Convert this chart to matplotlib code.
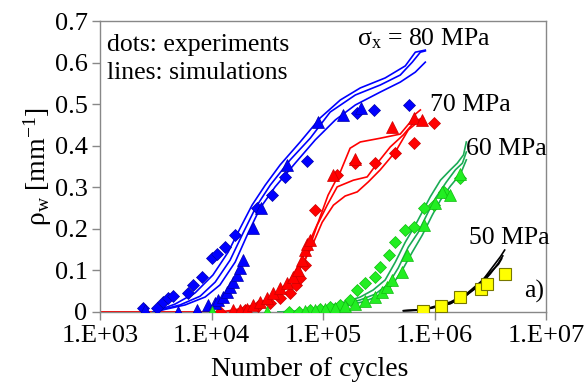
import matplotlib
matplotlib.use('Agg')
import matplotlib.pyplot as plt

plt.rcParams['font.family'] = 'Liberation Serif'
plt.rcParams['mathtext.fontset'] = 'custom'
plt.rcParams['mathtext.rm'] = 'Liberation Serif'
plt.rcParams['mathtext.it'] = 'Liberation Serif:italic'

# ---- 80 MPa (blue) ----
blue_sim_n = [
    [2990, 4710, 7130, 10300, 14100, 18100, 23100, 30300, 41300, 62400, 94500, 143000, 216000, 361000, 547000, 673000, 827000],
    [2990, 5220, 7910, 10800, 14700, 19200, 25100, 33600, 50800, 76800, 116000, 195000, 326000, 493000, 632000, 747000, 827000],
    [2990, 5800, 8770, 11900, 16300, 21300, 27300, 37200, 56300, 85200, 129000, 195000, 326000, 493000, 673000, 827000],
]
blue_sim_rho = [
    [0, 0.019, 0.046, 0.089, 0.144, 0.202, 0.257, 0.305, 0.354, 0.409, 0.467, 0.510, 0.539, 0.563, 0.592, 0.625, 0.630],
    [0, 0.017, 0.038, 0.072, 0.125, 0.190, 0.253, 0.305, 0.366, 0.418, 0.481, 0.522, 0.546, 0.570, 0.601, 0.625, 0.628],
    [0, 0.017, 0.036, 0.065, 0.120, 0.190, 0.250, 0.301, 0.358, 0.414, 0.462, 0.498, 0.529, 0.553, 0.577, 0.601],
]
blue_dia_n = [2430, 3230, 3700, 4100, 4550, 6200, 6800, 8200, 10100, 11200, 13300, 16300, 25500, 34800,
              45800, 71700, 201000, 284000, 586000]
blue_dia_rho = [0.010, 0.009, 0.025, 0.033, 0.038, 0.045, 0.065, 0.085, 0.129, 0.139, 0.157, 0.185, 0.249, 0.281,
                0.325, 0.364, 0.478, 0.486, 0.498]
blue_tri_n = [2540, 5050, 7380, 9380, 10800, 11500, 12800, 13700, 14700, 15700, 16900, 18100, 19300, 23800,
              27900, 47400, 89500, 150000, 220000]
blue_tri_rho = [0.006, 0.0, 0.005, 0.017, 0.021, 0.029, 0.037, 0.049, 0.061, 0.073, 0.089, 0.105, 0.125, 0.203,
                0.249, 0.354, 0.458, 0.474, 0.490]

# ---- 70 MPa (red) ----
red_sim_n = [
    [1000, 11900, 18100, 27300, 37200, 50800, 62400, 76800, 90600, 111000, 143000, 175000, 216000, 326000, 493000, 607000, 673000, 747000],
    [1000, 13200, 20000, 30300, 41300, 56300, 69200, 88700, 109000, 134000, 187000, 249000, 307000, 401000, 525000, 673000, 793000],
    [1000, 14700, 22200, 33600, 45800, 59800, 76800, 98400, 124000, 158000, 203000, 255000, 326000, 445000, 582000, 747000],
]
red_sim_rho = [
    [0, 0, 0.007, 0.022, 0.041, 0.077, 0.120, 0.173, 0.216, 0.281, 0.337, 0.394, 0.409, 0.418, 0.428, 0.457, 0.476, 0.486],
    [0, 0, 0.010, 0.026, 0.048, 0.087, 0.125, 0.209, 0.257, 0.301, 0.317, 0.325, 0.358, 0.397, 0.426, 0.460, 0.467],
    [0, 0, 0.012, 0.031, 0.055, 0.096, 0.149, 0.216, 0.257, 0.279, 0.289, 0.313, 0.342, 0.385, 0.438, 0.462],
]
red_dia_n = [11900, 20000, 26200, 33600, 41300, 50800, 57400, 62400, 69200, 85200, 133000, 195000, 294000,
             445000, 649000, 982000]
red_dia_rho = [0.001, 0.005, 0.014, 0.022, 0.034, 0.046, 0.065, 0.082, 0.113, 0.245, 0.330, 0.359, 0.358,
               0.382, 0.406, 0.454]
red_tri_n = [15600, 18100, 20900, 23600, 27300, 31600, 35700, 41300, 47700, 54000, 59800, 65000, 69200,
             72100, 76800, 124000, 195000, 416000, 649000, 773000]
red_tri_rho = [0.005, 0.005, 0.007, 0.017, 0.025, 0.034, 0.046, 0.058, 0.070, 0.084, 0.101, 0.125, 0.149,
               0.164, 0.173, 0.330, 0.369, 0.444, 0.466, 0.462]

# ---- 60 MPa (green) ----
green_sim_n = [
    [39600, 62400, 100400, 158000, 216000, 282000, 361000, 445000, 547000, 673000, 793000, 916000, 1130000, 1390000, 1600000, 1820000, 1930000],
    [39600, 62400, 100400, 158000, 216000, 294000, 385000, 473000, 582000, 716000, 879000, 1040000, 1280000, 1540000, 1780000, 1930000],
    [39600, 62400, 105000, 175000, 239000, 326000, 418000, 514000, 632000, 777000, 955000, 1130000, 1390000, 1710000, 1930000],
]
green_sim_rho = [
    [0, 0.002, 0.012, 0.024, 0.036, 0.053, 0.077, 0.120, 0.168, 0.209, 0.245, 0.277, 0.317, 0.342, 0.358, 0.378, 0.409],
    [0, 0.002, 0.010, 0.019, 0.029, 0.043, 0.067, 0.106, 0.156, 0.192, 0.241, 0.277, 0.313, 0.342, 0.358, 0.385],
    [0, 0, 0.007, 0.017, 0.026, 0.041, 0.065, 0.101, 0.144, 0.185, 0.233, 0.269, 0.303, 0.332, 0.366],
]
green_dia_n = [49700, 61100, 76800, 94500, 116000, 143000, 175000, 201000, 239000, 294000, 326000, 387000,
               445000, 547000, 649000, 798000, 982000, 1210000, 1710000]
green_dia_rho = [0.001, 0.0, 0.005, 0.007, 0.012, 0.017, 0.029, 0.053, 0.070, 0.085, 0.109, 0.137,
                 0.169, 0.197, 0.204, 0.249, 0.257, 0.289, 0.322]
green_tri_n = [10100, 31300, 69200, 85200, 105000, 129000, 158000, 195000, 239000, 294000, 340000, 375000,
               416000, 511000, 567000, 798000, 1020000, 1170000, 1390000, 1710000]
green_tri_rho = [0.0, 0.0, 0.002, 0.005, 0.007, 0.010, 0.014, 0.019, 0.026, 0.036, 0.048, 0.061,
                 0.077, 0.097, 0.137, 0.209, 0.261, 0.289, 0.281, 0.333]

# ---- 50 MPa (black / yellow) ----
black_sim_n = [
    [528000, 793000, 1390000, 1960000, 2580000, 3170000, 3900000, 4260000],
    [528000, 793000, 1390000, 1960000, 2580000, 3170000, 3750000, 4100000],
    [528000, 793000, 1390000, 1960000, 2580000, 3170000, 3750000, 4000000],
]
black_sim_rho = [
    [0.003, 0.005, 0.021, 0.041, 0.069, 0.101, 0.133, 0.149],
    [0.003, 0.005, 0.020, 0.042, 0.065, 0.092, 0.118, 0.135],
    [0.003, 0.006, 0.024, 0.045, 0.072, 0.095, 0.115, 0.128],
]
yellow_sq_n = [789000, 1140000, 1680000, 2610000, 2960000, 4260000]
yellow_sq_rho = [0.003, 0.014, 0.035, 0.055, 0.067, 0.091]

x_ticks = [1e3, 1e4, 1e5, 1e6, 1e7]
x_labels = ['1.E+03', '1.E+04', '1.E+05', '1.E+06', '1.E+07']
y_ticks = [0, 0.1, 0.2, 0.3, 0.4, 0.5, 0.6, 0.7]
y_labels = ['0', '0.1', '0.2', '0.3', '0.4', '0.5', '0.6', '0.7']

blue = '#0000ff'
red = '#ff0000'
green_line = '#1aab55'
green_mark = '#22ee22'

fig = plt.figure(figsize=(5.87, 3.92), dpi=100)
ax = fig.add_axes([100 / 587, 80 / 392, 446 / 587, 291 / 392])

ms = 7
for n, r in zip(red_sim_n, red_sim_rho):
    ax.plot(n, r, color=red, lw=1.2, zorder=2)
ax.plot(red_dia_n, red_dia_rho, 'D', color=red, mec='#cc0000', mew=0.5, ms=ms - 1, ls='none', zorder=3)
ax.plot(red_tri_n, red_tri_rho, '^', color=red, mec='#cc0000', mew=0.5, ms=ms + 1.5, ls='none', zorder=3)

for n, r in zip(blue_sim_n, blue_sim_rho):
    ax.plot(n, r, color=blue, lw=1.2, zorder=2)
ax.plot(blue_dia_n, blue_dia_rho, 'D', color=blue, mec='#0000aa', mew=0.5, ms=ms - 1, ls='none', zorder=3)
ax.plot(blue_tri_n, blue_tri_rho, '^', color=blue, mec='#0000aa', mew=0.5, ms=ms + 1.5, ls='none', zorder=3)

for n, r in zip(green_sim_n, green_sim_rho):
    ax.plot(n, r, color=green_line, lw=1.2, zorder=2)
ax.plot(green_dia_n, green_dia_rho, 'D', color=green_mark, mec='#11bb11', mew=0.5, ms=ms - 1, ls='none', zorder=3)
ax.plot(green_tri_n, green_tri_rho, '^', color=green_mark, mec='#11bb11', mew=0.5, ms=ms + 1.5, ls='none', zorder=3)

for n, r in zip(black_sim_n, black_sim_rho):
    ax.plot(n, r, color='black', lw=1.2, zorder=2)
ax.plot(yellow_sq_n, yellow_sq_rho, 's', color='#ffff00', mec='#777700', mew=0.8, ms=ms + 1, ls='none', zorder=3)

ax.set_xscale('log')
ax.set_xlim(1e3, 1e7)
ax.set_ylim(0, 0.7)
ax.set_xticks(x_ticks)
ax.set_xticklabels(x_labels)
ax.minorticks_off()
ax.set_yticks(y_ticks)
ax.set_yticklabels(y_labels)
ax.tick_params(axis='both', labelsize=19, direction='out', length=6, width=1, color='#888888', pad=3)

for side in ['left', 'bottom', 'top', 'right']:
    ax.spines[side].set_color('#888888')
    ax.spines[side].set_linewidth(1)

ax.set_xlabel('Number of cycles', fontsize=20, labelpad=2)
ax.xaxis.set_label_coords(0.47, -0.155)
ax.set_ylabel('ρ$_{\\mathrm{w}}$ [mm$^{-1}$]', fontsize=20, labelpad=0)

ax.text(0.016, 0.955, 'dots: experiments', transform=ax.transAxes, fontsize=18.5, va='top')
ax.text(0.016, 0.86, 'lines: simulations', transform=ax.transAxes, fontsize=18.5, va='top')
ax.text(0.577, 0.915, 'σ$_{\\mathrm{x}}$ = 80 MPa', transform=ax.transAxes, fontsize=18.5, va='baseline')
ax.text(0.741, 0.69, '70 MPa', transform=ax.transAxes, fontsize=18.5, va='baseline')
ax.text(0.820, 0.54, '60 MPa', transform=ax.transAxes, fontsize=18.5, va='baseline')
ax.text(0.827, 0.232, '50 MPa', transform=ax.transAxes, fontsize=18.5, va='baseline')
ax.text(0.950, 0.048, 'a)', transform=ax.transAxes, fontsize=18.5, va='baseline')

fig.savefig('out.png', dpi=100)
